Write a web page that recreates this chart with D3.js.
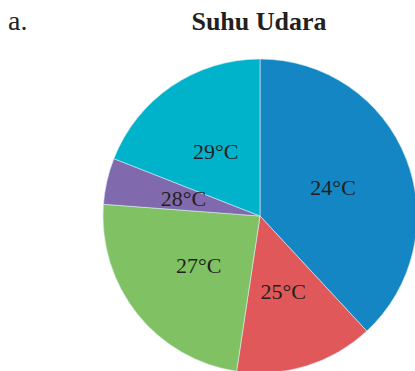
<!DOCTYPE html>
<html>
<head>
<meta charset="utf-8">
<script src="https://cdn.jsdelivr.net/npm/d3@7"></script>
<style>
  html, body { margin: 0; padding: 0; background: #fff; overflow: hidden; }
  svg { display: block; }
</style>
</head>
<body>
<svg id="chart" width="415" height="371"></svg>
<script>
// Air temperature frequency (number of days per temperature)
const categories = ["24°C", "25°C", "27°C", "28°C", "29°C"];
const values = [8, 3, 5, 1, 4];
const colors = ["#1386c3", "#e05859", "#80c263", "#8069ad", "#00b3ca"];

const svg = d3.select("#chart");
const cx = 260, cy = 216, radius = 157;

svg.append("text")
  .attr("x", 8).attr("y", 30)
  .attr("font-family", "'Liberation Serif', 'Times New Roman', serif")
  .attr("font-size", 28)
  .attr("fill", "#231f20")
  .text("a.");

svg.append("text")
  .attr("x", 259).attr("y", 30)
  .attr("text-anchor", "middle")
  .attr("font-family", "'Liberation Serif', 'Times New Roman', serif")
  .attr("font-weight", "bold")
  .attr("font-size", 26)
  .attr("fill", "#231f20")
  .text("Suhu Udara");

const data = categories.map((c, i) => ({ label: c, value: values[i], color: colors[i] }));

const pie = d3.pie().value(d => d.value).sort(null);
const arc = d3.arc().innerRadius(0).outerRadius(radius);
const labelArc = d3.arc().innerRadius(radius * 0.5).outerRadius(radius * 0.5);

const g = svg.append("g").attr("transform", `translate(${cx},${cy})`);
const arcs = pie(data);

g.selectAll("path")
  .data(arcs)
  .join("path")
  .attr("d", arc)
  .attr("fill", d => d.data.color)
  .attr("stroke", "#d8eef5")
  .attr("stroke-width", 0.6);

g.selectAll("text")
  .data(arcs)
  .join("text")
  .attr("transform", d => `translate(${labelArc.centroid(d)})`)
  .attr("text-anchor", "middle")
  .attr("dy", "0.35em")
  .attr("font-family", "'Liberation Serif', 'Times New Roman', serif")
  .attr("font-size", 22)
  .attr("fill", "#231f20")
  .text(d => d.data.label);
</script>
</body>
</html>
